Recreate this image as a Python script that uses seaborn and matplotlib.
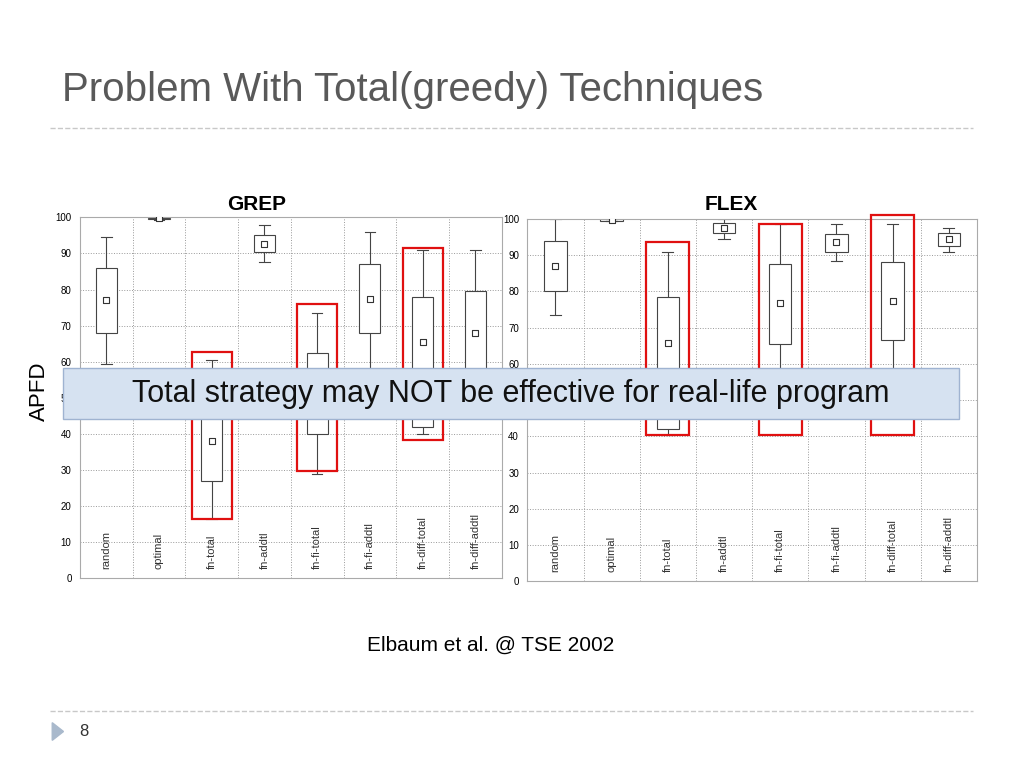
import matplotlib
matplotlib.use("Agg")
import matplotlib.pyplot as plt
import seaborn as sns
import pandas as pd
from matplotlib.patches import Rectangle, FancyBboxPatch, Polygon
from matplotlib.lines import Line2D

plt.rcParams["font.family"] = "Liberation Sans"

# Data: [whisker low, q1, median, q3, whisker high] and marker value per technique
techniques = ["random", "optimal", "fn-total", "fn-addtl", "fn-fi-total",
              "fn-fi-addtl", "fn-diff-total", "fn-diff-addtl"]

grep_stats = [
    [59.5, 68, 77, 86, 94.5],
    [99.3, 99.5, 99.7, 99.9, 100],
    [16.5, 27, 38, 55, 60.5],
    [87.5, 90.3, 92.7, 95, 98],
    [29, 40, 50, 62.5, 73.5],
    [58, 68, 77.4, 87, 96],
    [40, 42, 65.5, 78, 91],
    [45, 56, 68, 79.5, 91],
]
grep_marker = [77, 99.7, 38, 92.7, 50, 77.4, 65.5, 68]

flex_stats = [
    [73.5, 80, 87, 94, 100],
    [99.3, 99.5, 99.7, 99.9, 100],
    [40.5, 42, 65.8, 78.5, 91],
    [94.5, 96, 97.5, 99, 100],
    [50, 65.5, 76.8, 87.5, 98.5],
    [88.5, 91, 93.6, 95.8, 98.5],
    [50, 66.5, 77.3, 88, 98.5],
    [91, 92.5, 94.4, 96, 97.5],
]
flex_marker = [87, 99.7, 65.8, 97.5, 76.8, 93.6, 77.3, 94.4]

# red highlight boxes: (technique index, low, high)
grep_red = [(2, 16.3, 62.8), (4, 29.6, 76), (6, 38.2, 91.4)]
flex_red = [(2, 40.3, 93.6), (4, 40.3, 98.5), (6, 40.3, 101)]

fig = plt.figure(figsize=(10.24, 7.68), dpi=100)
fig.patch.set_facecolor("white")


def draw_panel(rect, stats, markers, reds):
    ax = fig.add_axes(rect)
    rows = []
    for t, vals in zip(techniques, stats):
        for v in vals:
            rows.append({"technique": t, "apfd": v})
    df = pd.DataFrame(rows)
    sns.boxplot(data=df, x="technique", y="apfd", order=techniques, ax=ax,
                whis=(0, 100), width=0.4, color="white", linewidth=0.8,
                boxprops=dict(edgecolor="#444444", facecolor="white"),
                whiskerprops=dict(color="#444444"), capprops=dict(color="#444444"),
                medianprops=dict(linewidth=0), showfliers=False)
    mdf = pd.DataFrame({"technique": techniques, "apfd": markers})
    sns.scatterplot(data=mdf, x="technique", y="apfd", ax=ax, marker="s", s=14,
                    facecolor="white", edgecolor="#333333", linewidth=0.8, zorder=4)
    for i, lo, hi in reds:
        ax.add_patch(Rectangle((i - 0.38, lo), 0.76, hi - lo, fill=False,
                               edgecolor="#e01010", linewidth=1.6, zorder=5,
                               clip_on=False))
    for i, t in enumerate(techniques):
        ax.text(i, 2.5, t, rotation=90, ha="center", va="bottom", fontsize=8,
                color="#333333")
    ax.set_ylim(0, 100)
    ax.set_xlim(-0.5, 7.5)
    ax.set_yticks(range(0, 101, 10))
    ax.tick_params(axis="y", labelsize=7, length=0, pad=6)
    ax.set_xticks([])
    ax.set_xlabel("")
    ax.set_ylabel("")
    ax.grid(True, axis="y", linestyle=":", color="#999999", linewidth=0.7)
    for i in range(8):
        ax.axvline(i + 0.5, linestyle=":", color="#999999", linewidth=0.7, zorder=0)
    for s in ax.spines.values():
        s.set_color("#aaaaaa")
        s.set_linewidth(0.8)
    return ax


draw_panel([0.078, 0.247, 0.412, 0.470], grep_stats, grep_marker, grep_red)
draw_panel([0.515, 0.243, 0.439, 0.472], flex_stats, flex_marker, flex_red)

# Slide text
fig.text(0.061, 0.883, "Problem With Total(greedy) Techniques", fontsize=29,
         color="#595959", va="center", ha="left")
fig.add_artist(Line2D([0.049, 0.95], [0.833, 0.833], linestyle="--",
                      color="#c8c8c8", linewidth=1))
fig.add_artist(Line2D([0.049, 0.95], [0.074, 0.074], linestyle="--",
                      color="#c8c8c8", linewidth=1))
fig.text(0.251, 0.734, "GREP", fontsize=15, fontweight="bold", ha="center", va="center")
fig.text(0.714, 0.734, "FLEX", fontsize=15, fontweight="bold", ha="center", va="center")
fig.text(0.039, 0.49, "APFD", fontsize=16, rotation=90, ha="center", va="center")
fig.text(0.479, 0.16, "Elbaum et al. @ TSE 2002", fontsize=15, ha="center", va="center")
fig.text(0.082, 0.048, "8", fontsize=12, ha="center", va="center", color="#333333")
fig.add_artist(Polygon([[0.051, 0.059], [0.051, 0.036], [0.062, 0.0475]],
                       closed=True, color="#a9b9cc"))

# Banner
fig.add_artist(FancyBboxPatch((0.062, 0.455), 0.875, 0.066,
                              boxstyle="square,pad=0", facecolor="#d6e2f1",
                              edgecolor="#9fb3d1", linewidth=1, zorder=10))
fig.text(0.499, 0.487, "Total strategy may NOT be effective for real-life program",
         fontsize=22, ha="center", va="center", zorder=11, color="#111111")

fig.savefig("out.png", dpi=100)
